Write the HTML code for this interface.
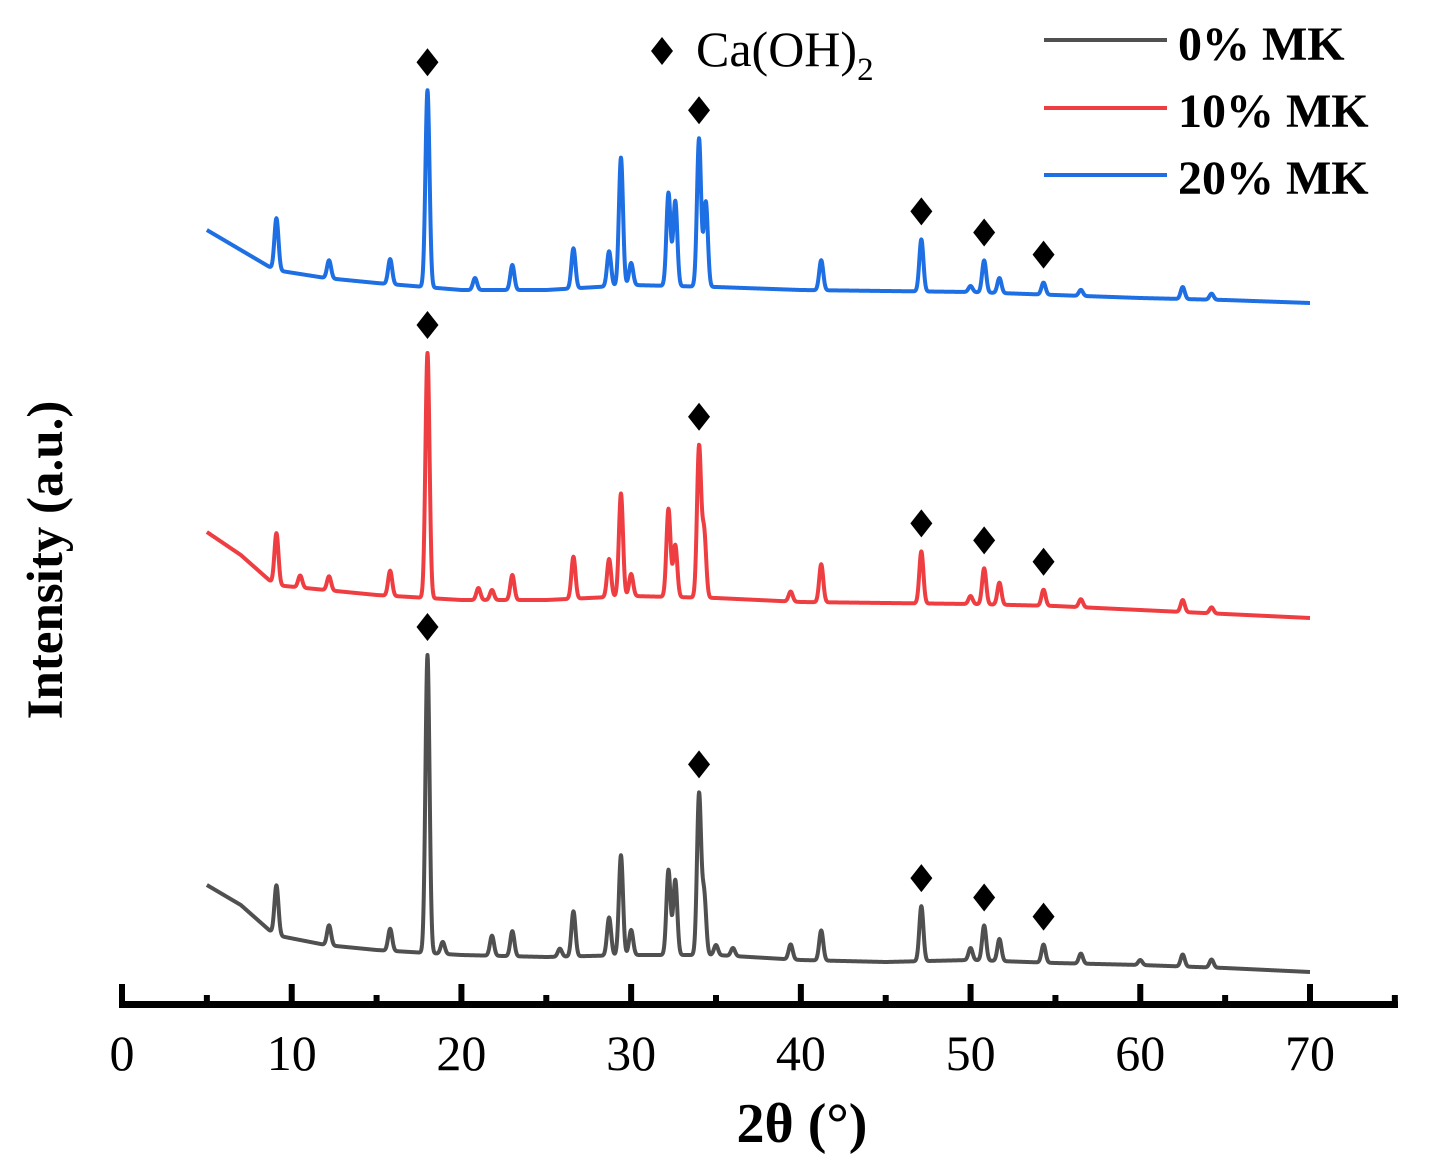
<!DOCTYPE html>
<html><head><meta charset="utf-8"><style>
html,body{margin:0;padding:0;background:#fff;}
svg{display:block;font-family:"Liberation Serif",serif;}
</style></head><body>
<svg id="chart" width="1430" height="1170" viewBox="0 0 1430 1170" xmlns="http://www.w3.org/2000/svg"></svg>
<script>
// ---- data ----
const bgX = [5,7,9,12,15,20,25,30,35,40,45,50,55,60,65,70];
const bg0 = [95,75,45,35,30,25,23,25,25,20,18,20,17,15,12,8];
const bg10 = [93,70,40,35,30,25,25,29,27,23,22,21,19,15,11,7];
const bg20 = [80,60,40,32,27,20,20,25,23,20,19,18,15,12,10,7];
const peakPos0 = [9.1,12.2,15.8,18.0,18.9,21.8,23.0,25.8,26.6,28.7,29.4,30.0,32.2,32.6,34.0,34.3,35.0,36.0,39.4,41.2,47.1,50.0,50.8,51.7,54.3,56.5,60.0,62.5,64.2];
const peakH0 = [50,20,22,298,12,20,25,8,45,38,100,25,85,75,160,60,10,8,15,30,55,12,35,22,18,10,5,12,8];
const peakPos10 = [9.1,10.5,12.2,15.8,18.0,21.0,21.8,23.0,26.6,28.7,29.4,30.0,32.2,32.6,34.0,34.3,39.4,41.2,47.1,50.0,50.8,51.7,54.3,56.5,62.5,64.2];
const peakH10 = [52,12,14,25,245,12,10,25,42,38,103,22,88,52,150,65,10,38,52,8,36,22,16,8,12,6];
const peakPos20 = [9.1,12.2,15.8,18.0,20.8,23.0,26.6,28.7,29.4,30.0,32.2,32.6,34.0,34.4,41.2,47.1,50.0,50.8,51.7,54.3,56.5,62.5,64.2];
const peakH20 = [52,18,25,197,12,25,40,35,128,22,93,85,148,85,30,52,6,32,15,12,6,12,6];
const xTicks = [0,10,20,30,40,50,60,70];
const markers0 = [18.0,34.0,47.1,50.8,54.3];
const markers10 = [18.0,34.0,47.1,50.8,54.3];
const markers20 = [18.0,34.0,47.1,50.8,54.3];

// ---- scales ----
const NS='http://www.w3.org/2000/svg';
const svg=document.getElementById('chart');
const xS = v => 122 + v*(1310-122)/70;
const series = [
 {name:'0% MK',bg:bg0,pos:peakPos0,h:peakH0,base:980,color:'#505050',mk:markers0,slug:'0-mk'},
 {name:'10% MK',bg:bg10,pos:peakPos10,h:peakH10,base:625,color:'#ef3e42',mk:markers10,slug:'10-mk'},
 {name:'20% MK',bg:bg20,pos:peakPos20,h:peakH20,base:310,color:'#1d6fe3',mk:markers20,slug:'20-mk'}
];
function bgAt(arr,x){
  for(let i=0;i<bgX.length-1;i++){
    if(x<=bgX[i+1]){const t=(x-bgX[i])/(bgX[i+1]-bgX[i]);return arr[i]+t*(arr[i+1]-arr[i]);}
  }
  return arr[arr.length-1];
}
function intensity(s,x){
  let v=bgAt(s.bg,x);
  for(let i=0;i<s.pos.length;i++){const d=(x-s.pos[i])/0.12;v+=s.h[i]*Math.exp(-0.5*d*d);}
  return v;
}
function el(tag,attrs){const e=document.createElementNS(NS,tag);for(const k in attrs)e.setAttribute(k,attrs[k]);svg.appendChild(e);return e;}

series.forEach(s=>{
  let d='';
  for(let x=5;x<=70.0001;x+=0.02){
    const px=xS(x), py=s.base-intensity(s,x);
    d+=(d?'L':'M')+px.toFixed(2)+','+py.toFixed(2);
  }
  const p=el('path',{d:d,fill:'none',stroke:s.color,'stroke-width':4,'stroke-linejoin':'round'});
  
  
  s.mk.forEach(m=>{
    const cx=xS(m), top=s.base-intensity(s,m)-28;
    const dm=el('path',{d:`M${cx},${top-14}L${cx+11},${top}L${cx},${top+14}L${cx-11},${top}Z`,fill:'#000'});
    
    
  });
});

// axis
const ax=el('line',{x1:119,y1:1004.5,x2:1398,y2:1004.5,stroke:'#000','stroke-width':7});


for(let v=0;v<=75;v+=5){
  const major=v%10===0;
  const t=el('line',{x1:xS(v),y1:major?984:995,x2:xS(v),y2:1004,stroke:'#000','stroke-width':6});
  
  
}
xTicks.forEach(v=>{
  const t=el('text',{x:xS(v),y:1070,'text-anchor':'middle','font-size':50});
  t.textContent=v;
  
  
});
</script>
<svg style="position:absolute;left:0;top:0" width="1430" height="1170">
<text x="802" y="1142" text-anchor="middle" font-family="Liberation Serif, serif" font-weight="bold" font-size="56">2θ (°)</text>
<text transform="translate(62,560) rotate(-90)" text-anchor="middle" font-family="Liberation Serif, serif" font-weight="bold" font-size="51">Intensity (a.u.)</text>
<path d="M662,37L673,51L662,65L651,51Z" fill="#000"/>
<text x="696" y="66" font-family="Liberation Serif, serif" font-size="50">Ca(OH)<tspan font-size="33" dy="14">2</tspan></text>
<g>
<line x1="1044" y1="40" x2="1167" y2="40" stroke="#505050" stroke-width="4"/>
<text x="1178" y="60" font-family="Liberation Serif, serif" font-weight="bold" font-size="48">0% MK</text></g>
<g>
<line x1="1044" y1="108" x2="1167" y2="108" stroke="#ef3e42" stroke-width="4"/>
<text x="1178" y="127" font-family="Liberation Serif, serif" font-weight="bold" font-size="48">10% MK</text></g>
<g>
<line x1="1044" y1="175" x2="1167" y2="175" stroke="#1d6fe3" stroke-width="4"/>
<text x="1178" y="194" font-family="Liberation Serif, serif" font-weight="bold" font-size="48">20% MK</text></g>
</svg>
</body></html>
